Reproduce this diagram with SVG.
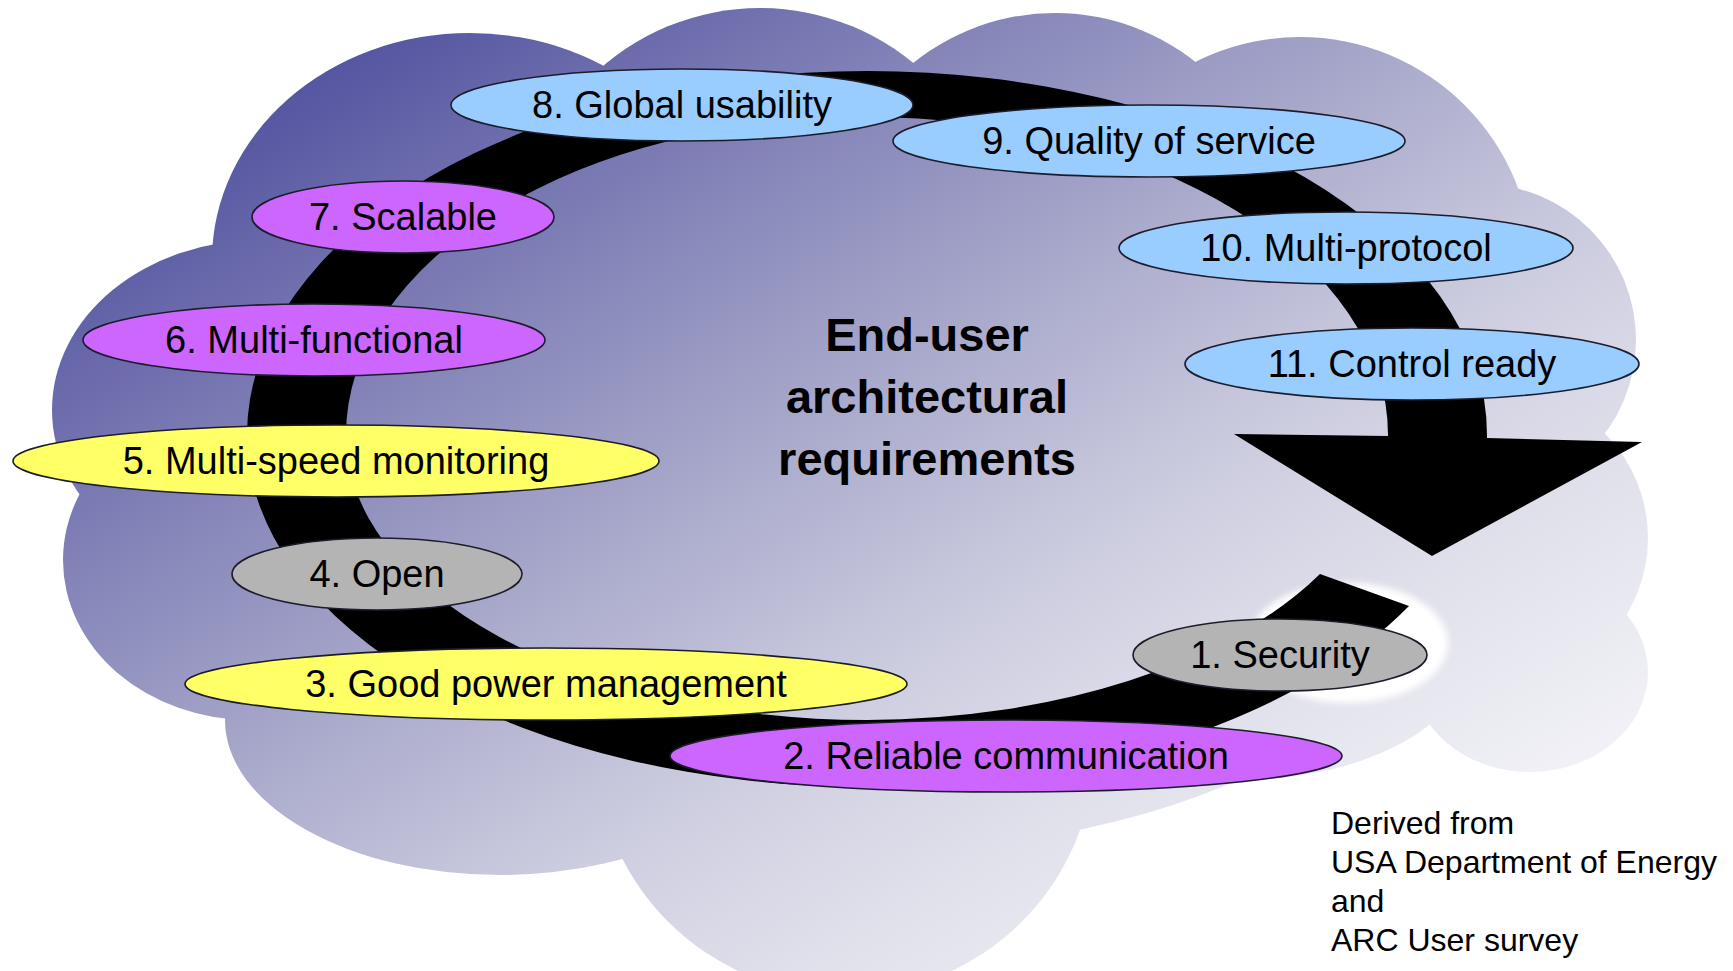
<svg xmlns="http://www.w3.org/2000/svg" width="1733" height="971" viewBox="0 0 1733 971">
  <defs>
    <!-- diagonal shading of the cloud, dark at the upper left, fading to white -->
    <linearGradient id="cloudGrad" gradientUnits="userSpaceOnUse" x1="52" y1="8" x2="935" y2="1437">
      <stop offset="0" stop-color="#42429a"/>
      <stop offset="0.12" stop-color="#5656a2"/>
      <stop offset="0.3" stop-color="#8585b9"/>
      <stop offset="0.45" stop-color="#aaaacc"/>
      <stop offset="0.6" stop-color="#cdcde0"/>
      <stop offset="0.72" stop-color="#e0e0eb"/>
      <stop offset="0.88" stop-color="#f3f3f8"/>
      <stop offset="1" stop-color="#fbfbfd"/>
    </linearGradient>
    <filter id="soft" x="-20%" y="-30%" width="140%" height="160%">
      <feGaussianBlur stdDeviation="3"/>
    </filter>
    <style>
      .cloud { fill: url(#cloudGrad); }
      .node ellipse { stroke: #1c1c2a; stroke-width: 1.6; }
      .node text { font-family: "Liberation Sans", Arial, sans-serif; font-size: 38px; fill: #000; text-anchor: middle; }
      .blue { fill: #99ccff; }
      .violet { fill: #cc66ff; }
      .yellow { fill: #ffff66; }
      .grey { fill: #b4b4b4; }
      .title { font-family: "Liberation Sans", Arial, sans-serif; font-size: 47px; font-weight: bold; fill: #000; text-anchor: middle; }
      .credit { font-family: "Liberation Sans", Arial, sans-serif; font-size: 32px; fill: #000; }
    </style>
  </defs>

  <rect width="1733" height="971" fill="#ffffff"/>

  <!-- cloud background built from overlapping lobes -->
  <g id="cloud">
    <ellipse class="cloud" cx="880" cy="470" rx="620" ry="380"/>
    <ellipse class="cloud" cx="470" cy="260" rx="258" ry="227"/>
    <circle class="cloud" cx="760" cy="249" r="241"/>
    <circle class="cloud" cx="1055" cy="239" r="226"/>
    <circle class="cloud" cx="1300" cy="270" r="233"/>
    <circle class="cloud" cx="1480" cy="340" r="156"/>
    <circle class="cloud" cx="1500" cy="538" r="148"/>
    <ellipse class="cloud" cx="1530" cy="672" rx="118" ry="100"/>
    <ellipse class="cloud" cx="1240" cy="645" rx="235" ry="135"/>
    <circle class="cloud" cx="845" cy="745" r="250"/>
    <ellipse class="cloud" cx="500" cy="720" rx="275" ry="155"/>
    <ellipse class="cloud" cx="250" cy="560" rx="187" ry="160"/>
    <ellipse class="cloud" cx="260" cy="410" rx="208" ry="170"/>
    <!-- gap between lobes next to item 1 -->
    <ellipse cx="1348" cy="643" rx="100" ry="60" fill="#ffffff" filter="url(#soft)"/>
  </g>

  <!-- the circular arrow joining the requirements -->
  <g id="connectors">
    <path id="cycle-arrow" fill="#000000" d="M 1409 606
      A 620 352 0 0 1 867 787
      A 620 352 0 0 1 247 435
      A 620 364 0 0 1 867 71
      A 620 364 0 0 1 1487 435
      L 1487 438 L 1642 442 L 1432 556 L 1234 434 L 1388 436 L 1388 435
      A 521 318 0 0 0 867 117
      A 521 318 0 0 0 346 435
      A 521 285 0 0 0 867 720
      A 521 285 0 0 0 1320 574 Z"/>
  </g>

  <g id="node-8" class="node">
    <ellipse class="blue" cx="682" cy="105" rx="231" ry="36"/>
    <text x="682" y="118">8. Global usability</text>
  </g>
  <g id="node-9" class="node">
    <ellipse class="blue" cx="1149" cy="141" rx="256" ry="36"/>
    <text x="1149" y="154">9. Quality of service</text>
  </g>
  <g id="node-7" class="node">
    <ellipse class="violet" cx="403" cy="217" rx="151" ry="36"/>
    <text x="403" y="230">7. Scalable</text>
  </g>
  <g id="node-10" class="node">
    <ellipse class="blue" cx="1346" cy="248" rx="227" ry="36"/>
    <text x="1346" y="261">10. Multi-protocol</text>
  </g>
  <g id="node-6" class="node">
    <ellipse class="violet" cx="314" cy="340" rx="231" ry="36"/>
    <text x="314" y="353">6. Multi-functional</text>
  </g>
  <g id="node-11" class="node">
    <ellipse class="blue" cx="1412" cy="364" rx="227" ry="36"/>
    <text x="1412" y="377">11. Control ready</text>
  </g>
  <g id="node-5" class="node">
    <ellipse class="yellow" cx="336" cy="461" rx="323" ry="36"/>
    <text x="336" y="474">5. Multi-speed monitoring</text>
  </g>
  <g id="node-4" class="node">
    <ellipse class="grey" cx="377" cy="574" rx="145" ry="36"/>
    <text x="377" y="587">4. Open</text>
  </g>
  <g id="node-3" class="node">
    <ellipse class="yellow" cx="546" cy="684" rx="361" ry="36"/>
    <text x="546" y="697">3. Good power management</text>
  </g>
  <g id="node-2" class="node">
    <ellipse class="violet" cx="1006" cy="756" rx="336" ry="36"/>
    <text x="1006" y="769">2. Reliable communication</text>
  </g>
  <g id="node-1" class="node">
    <ellipse class="grey" cx="1280" cy="655" rx="147" ry="36"/>
    <text x="1280" y="668">1. Security</text>
  </g>

  <g id="title">
    <text class="title" x="927" y="351">End-user</text>
    <text class="title" x="927" y="413">architectural</text>
    <text class="title" x="927" y="475">requirements</text>
  </g>

  <g id="credit">
    <text class="credit" x="1331" y="834">Derived from</text>
    <text class="credit" x="1331" y="873">USA Department of Energy</text>
    <text class="credit" x="1331" y="912">and</text>
    <text class="credit" x="1331" y="951">ARC User survey</text>
  </g>
</svg>
